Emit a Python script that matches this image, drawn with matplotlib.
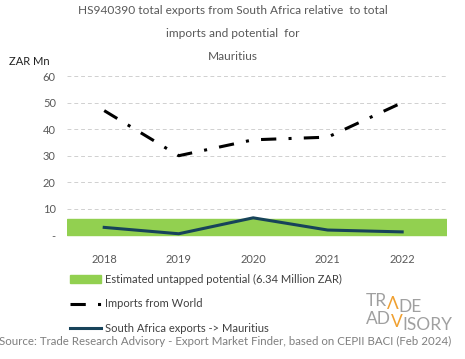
import matplotlib.pyplot as plt
import numpy as np

# --- data ---
years = ["2018", "2019", "2020", "2021", "2022"]
imports_world = [47, 30, 36, 37, 50]
sa_exports = [3.0, 0.6, 6.6, 2.0, 1.3]
untapped_potential = 6.34
y_ticks = [0, 10, 20, 30, 40, 50, 60]
y_tick_labels = ["-", "10", "20", "30", "40", "50", "60"]

plt.rcParams['font.family'] = ['Lato', 'DejaVu Sans']

fig = plt.figure(figsize=(4.65, 3.59), dpi=100)
ax = fig.add_axes([0.144, 0.34, 0.817, 0.448])

x = np.arange(len(years))

# untapped potential band across the whole axis
ax.axhspan(0, untapped_potential, color="#92d050", zorder=1,
           label="Estimated untapped potential (6.34 Million ZAR)")

ax.plot(x, imports_world, color="black", lw=2.2, zorder=3,
        dashes=(5, 4, 1, 4), label="Imports from World")
ax.plot(x, sa_exports, color="#17435a", lw=2.2, zorder=3,
        label="South Africa exports -> Mauritius")

ax.set_xlim(-0.5, 4.6)
ax.set_ylim(-0.6, 60)
ax.set_xticks(x)
ax.set_xticklabels(years)
ax.set_yticks(y_ticks)
ax.set_yticklabels(y_tick_labels)
ax.tick_params(length=0, labelsize=8, colors="#595959", pad=8)
ax.tick_params(axis="x", pad=12)
for s in ax.spines.values():
    s.set_visible(False)
ax.yaxis.grid(True, color="#d0d0d0", lw=0.7, linestyle=(0, (4, 3)))
ax.set_axisbelow(True)

# title and axis unit
fig.text(0.5, 0.985, "HS940390 total exports from South Africa relative  to total\n"
         "imports and potential  for\nMauritius",
         ha="center", va="top", fontsize=8.6, color="#595959", linespacing=2.3)
fig.text(0.02, 0.83, "ZAR Mn", fontsize=8, color="#222222", va="center")

# legend below the plot
ax.legend(loc="upper left", bbox_to_anchor=(-0.005, -0.2), frameon=False,
          fontsize=8, labelcolor="#404040", handlelength=2.8, handletextpad=0.4,
          labelspacing=1.25, borderaxespad=0)

# logo: grey letters with an orange Λ / V
grey, orange = "#a0a0a0", "#f0a030"
logo_kw = dict(fontsize=12.5, fontweight="normal", va="baseline", ha="left",
               annotation_clip=False)
for row, y0 in [(("TR", "\u039b", "DE"), 0.148), (("AD", "V", "ISORY"), 0.097)]:
    prev = ax.annotate(row[0], xy=(0.786, y0), xycoords="figure fraction",
                       color=grey, **logo_kw)
    for i, part in enumerate(row[1:]):
        prev = ax.annotate(part, xy=(1, 0), xycoords=prev,
                           color=orange if i == 0 else grey, **logo_kw)

fig.text(0.485, 0.05, "Source: Trade Research Advisory - Export Market Finder, "
         "based on CEPII BACI (Feb 2024)", ha="center", va="center",
         fontsize=8.3, color="#7f7f7f")

fig.savefig("out.png", dpi=100)
plt.close(fig)
